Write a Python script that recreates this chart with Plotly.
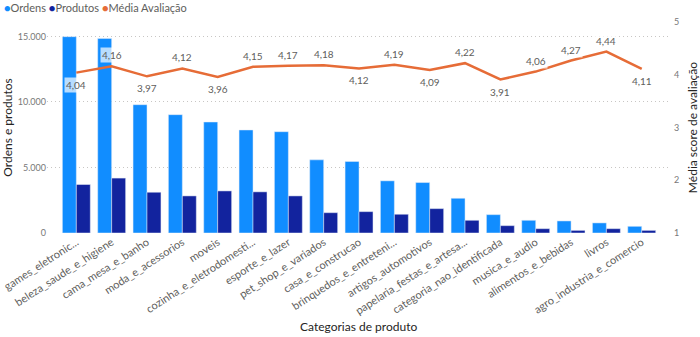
import plotly.graph_objects as go

categorias = [
    "games_eletronic...", "beleza_saude_e_higiene", "cama_mesa_e_banho", "moda_e_acessorios",
    "moveis", "cozinha_e_eletrodomesti...", "esporte_e_lazer", "pet_shop_e_variados",
    "casa_e_construcao", "brinquedos_e_entreteni...", "artigos_automotivos",
    "papelaria_festas_e_artesa...", "categoria_nao_identificada", "musica_e_audio",
    "alimentos_e_bebidas", "livros", "agro_industria_e_comercio",
]
ordens = [14980, 14850, 9790, 9030, 8470, 7860, 7730, 5580, 5460, 3980, 3850, 2650, 1400, 970, 920, 770, 510]
produtos = [3700, 4190, 3110, 2830, 3210, 3140, 2830, 1550, 1630, 1430, 1860, 970, 560, 330, 200, 330, 200]
media = [4.04, 4.16, 3.97, 4.12, 3.96, 4.15, 4.17, 4.18, 4.12, 4.19, 4.09, 4.22, 3.91, 4.06, 4.27, 4.44, 4.11]
label_pos = ["below", "above", "below", "above", "below", "above", "above", "above", "below",
             "above", "below", "above", "below", "above", "above", "above", "below"]
series_names = ["Ordens", "Produtos", "Média Avaliação"]

FONT = "Segoe UI, Lato, sans-serif"
C_ORD = "#118DFF"
C_PROD = "#12239E"
C_MED = "#E66C37"
GREY = "#605E5C"
TITLE_C = "#252423"

fig = go.Figure()
fig.add_trace(go.Bar(x=categorias, y=ordens, name=series_names[0], marker_color=C_ORD))
fig.add_trace(go.Bar(x=categorias, y=produtos, name=series_names[1], marker_color=C_PROD))
fig.add_trace(go.Scatter(x=categorias, y=media, name=series_names[2], mode="lines",
                         line=dict(color=C_MED, width=2.5), yaxis="y2"))

for c, v, p in zip(categorias, media, label_pos):
    fig.add_annotation(x=c, y=v, xref="x", yref="y2", showarrow=False,
                       text=f"{v:.2f}".replace(".", ","),
                       yshift=11 if p == "above" else -12,
                       font=dict(family=FONT, size=10, color=GREY),
                       bgcolor="rgba(255,255,255,0.7)", borderpad=1)

# legend drawn as text (circle markers like the original)
legend_txt = " ".join(
    f'<span style="color:{col}">●</span>{nm}'
    for nm, col in zip(series_names, [C_ORD, C_PROD, C_MED])
)
fig.add_annotation(xref="paper", yref="paper", x=-0.073, y=1.067, xanchor="left", yanchor="middle",
                   showarrow=False, text=legend_txt, font=dict(family=FONT, size=11, color=GREY))
# x axis title
fig.add_annotation(xref="paper", yref="paper", x=0.5, y=-0.445, xanchor="center", yanchor="middle",
                   showarrow=False, text="Categorias de produto",
                   font=dict(family=FONT, size=12, color=TITLE_C))

fig.update_layout(
    width=700, height=337,
    margin=dict(l=47, r=30, t=22, b=104),
    paper_bgcolor="white", plot_bgcolor="white",
    separators=",.",
    barmode="group", bargap=0.21, bargroupgap=0,
    showlegend=False,
    font=dict(family=FONT, color=GREY),
    xaxis=dict(range=[-0.83, 16.8], tickangle=-33, showgrid=False, showline=False, ticks="",
               automargin=False,
               tickfont=dict(family=FONT, size=11, color=GREY)),
    yaxis=dict(range=[0, 16100], tickvals=[0, 5000, 10000, 15000], tickformat=",d",
               showgrid=True, gridcolor="#C8C6C4", griddash="1px,3px", gridwidth=1,
               zeroline=False, showline=False, ticks="", automargin=False,
               tickfont=dict(family=FONT, size=9, color="#777777"),
               title=dict(text="Ordens e produtos", font=dict(family=FONT, size=12, color=TITLE_C),
                          standoff=9)),
    yaxis2=dict(range=[1, 5], tickvals=[1, 2, 3, 4, 5], overlaying="y", side="right",
                showgrid=False, zeroline=False, showline=False, ticks="", automargin=False,
                ticklabelstandoff=3,
                tickfont=dict(family=FONT, size=9, color="#777777"),
                title=dict(text="Média score de avaliação", font=dict(family=FONT, size=12, color=TITLE_C),
                           standoff=10)),
)

fig.write_html("out.html")
